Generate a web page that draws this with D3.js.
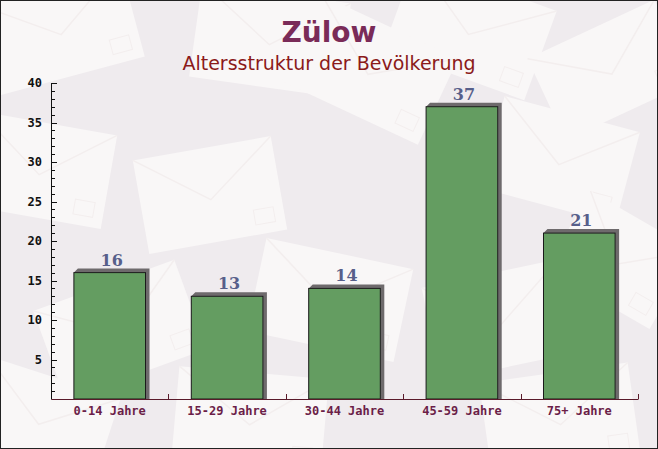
<!DOCTYPE html>
<html>
<head>
<meta charset="utf-8">
<script src="https://cdn.jsdelivr.net/npm/d3@7"></script>
<style>
  body { margin: 0; background: #fff; }
  svg { display: block; }
</style>
</head>
<body>
<div id="chart"></div>
<script>
const categories = ["0-14 Jahre", "15-29 Jahre", "30-44 Jahre", "45-59 Jahre", "75+ Jahre"];
const values = [16, 13, 14, 37, 21];
const yTicks = [5, 10, 15, 20, 25, 30, 35, 40];
const titleText = "Zülow";
const subtitleText = "Altersstruktur der Bevölkerung";

// background envelopes (decorative): cx, cy, w, h, angle
const envelopes = [
  [60, 30, 150, 95, -15], [270, 40, 150, 95, 8], [470, 30, 150, 95, 20], [610, 70, 140, 90, -25],
  [40, 170, 140, 95, 10], [210, 195, 140, 95, -10], [370, 70, 150, 95, 25], [560, 160, 140, 95, 15],
  [120, 330, 150, 95, -20], [330, 300, 150, 95, 12], [500, 320, 140, 95, -12], [620, 260, 120, 90, 30],
  [250, 420, 150, 95, 5], [560, 420, 150, 95, -8], [40, 420, 140, 90, 18]
];

const width = 658, height = 449;
const margin = { top: 83, right: 20, bottom: 50, left: 51 };

const svg = d3.select("#chart").append("svg")
  .attr("width", width)
  .attr("height", height);

// background
svg.append("rect")
  .attr("width", width).attr("height", height)
  .attr("fill", "#efebee");

const bg = svg.append("g");
envelopes.forEach(([cx, cy, w, h, a]) => {
  const g = bg.append("g").attr("transform", `translate(${cx},${cy}) rotate(${a})`);
  g.append("rect").attr("x", -w / 2).attr("y", -h / 2).attr("width", w).attr("height", h)
    .attr("fill", "#f9f7f7");
  g.append("path")
    .attr("d", `M${-w / 2},${-h / 2}L0,${h * 0.05}L${w / 2},${-h / 2}`)
    .attr("fill", "none").attr("stroke", "#f3eeee").attr("stroke-width", 1.5);
  g.append("rect").attr("x", w / 2 - 30).attr("y", h / 2 - 25).attr("width", 20).attr("height", 15)
    .attr("fill", "none").attr("stroke", "#f3eeee");
});

// border
svg.append("rect")
  .attr("x", 0.5).attr("y", 0.5).attr("width", width - 1).attr("height", height - 1)
  .attr("fill", "none").attr("stroke", "#222").attr("stroke-width", 1);

// titles
svg.append("text")
  .attr("x", width / 2).attr("y", 42)
  .attr("text-anchor", "middle")
  .attr("font-family", "'DejaVu Sans', sans-serif")
  .attr("font-weight", "bold")
  .attr("font-size", 28)
  .attr("fill", "#7a2b58")
  .text(titleText);

svg.append("text")
  .attr("x", width / 2).attr("y", 70)
  .attr("text-anchor", "middle")
  .attr("font-family", "'DejaVu Sans', sans-serif")
  .attr("font-size", 19)
  .attr("fill", "#8b1a1a")
  .text(subtitleText);

const x = d3.scaleBand()
  .domain(categories)
  .range([margin.left, width - margin.right])
  .paddingInner(0.39)
  .paddingOuter(0.195);

const y = d3.scaleLinear()
  .domain([0, 40])
  .range([height - margin.bottom, margin.top]);

const plot = svg.append("g");

// bars with 3D-ish shadow
const depth = 4;
const bars = plot.selectAll("g.bar")
  .data(values)
  .join("g")
  .attr("class", "bar");

bars.append("path")
  .attr("d", (d, i) => {
    const x0 = x(categories[i]), x1 = x0 + x.bandwidth();
    const y0 = y(d), yb = y(0);
    return `M${x0},${y0}L${x0 + depth},${y0 - depth}L${x1 + depth},${y0 - depth}L${x1 + depth},${yb}L${x1},${yb}L${x1},${y0}Z`;
  })
  .attr("fill", "#6e6a6c");

bars.append("rect")
  .attr("x", (d, i) => x(categories[i]))
  .attr("y", d => y(d))
  .attr("width", x.bandwidth())
  .attr("height", d => y(0) - y(d))
  .attr("fill", "#5f9a5c")
  .attr("fill-opacity", 0.97)
  .attr("stroke", "#1a1a1a")
  .attr("stroke-width", 1);

bars.append("text")
  .attr("x", (d, i) => x(categories[i]) + x.bandwidth() / 2 + 2)
  .attr("y", d => y(d) - 7)
  .attr("text-anchor", "middle")
  .attr("font-family", "'DejaVu Serif', serif")
  .attr("font-weight", "bold")
  .attr("font-size", 16)
  .attr("fill", "#575f8a")
  .text(d => d);

// y axis
const yAxis = d3.axisLeft(y)
  .tickValues(yTicks)
  .tickSize(0)
  .tickPadding(9)
  .tickFormat(d3.format("d"));

const yg = svg.append("g")
  .attr("transform", `translate(${margin.left},0)`)
  .call(yAxis);
yg.select(".domain").attr("stroke", "#111");
yg.selectAll("text")
  .attr("font-family", "'DejaVu Sans Mono', monospace")
  .attr("font-weight", "bold")
  .attr("font-size", 12)
  .attr("fill", "#111");

// minor/major y ticks pointing inward
yg.selectAll("line.mt")
  .data(d3.range(1, 41))
  .join("line")
  .attr("class", "mt")
  .attr("x1", 0)
  .attr("x2", d => d % 5 === 0 ? 6 : 4)
  .attr("y1", d => Math.round(y(d)) + 0.5)
  .attr("y2", d => Math.round(y(d)) + 0.5)
  .attr("stroke", "#111");

// x axis
const xAxis = d3.axisBottom(x).tickSize(0).tickPadding(7);
const xg = svg.append("g")
  .attr("transform", `translate(0,${y(0)})`)
  .call(xAxis);
xg.select(".domain").attr("stroke", "#5a1a2a");
xg.selectAll("text")
  .attr("font-family", "'DejaVu Sans Mono', monospace")
  .attr("font-weight", "bold")
  .attr("font-size", 12)
  .attr("fill", "#6b1e48");

const step = x.step();
xg.selectAll("line.sep")
  .data(d3.range(1, categories.length + 1))
  .join("line")
  .attr("class", "sep")
  .attr("x1", i => Math.round(margin.left + i * step) + 0.5)
  .attr("x2", i => Math.round(margin.left + i * step) + 0.5)
  .attr("y1", 0)
  .attr("y2", -5)
  .attr("stroke", "#5a1a2a");
</script>
</body>
</html>
